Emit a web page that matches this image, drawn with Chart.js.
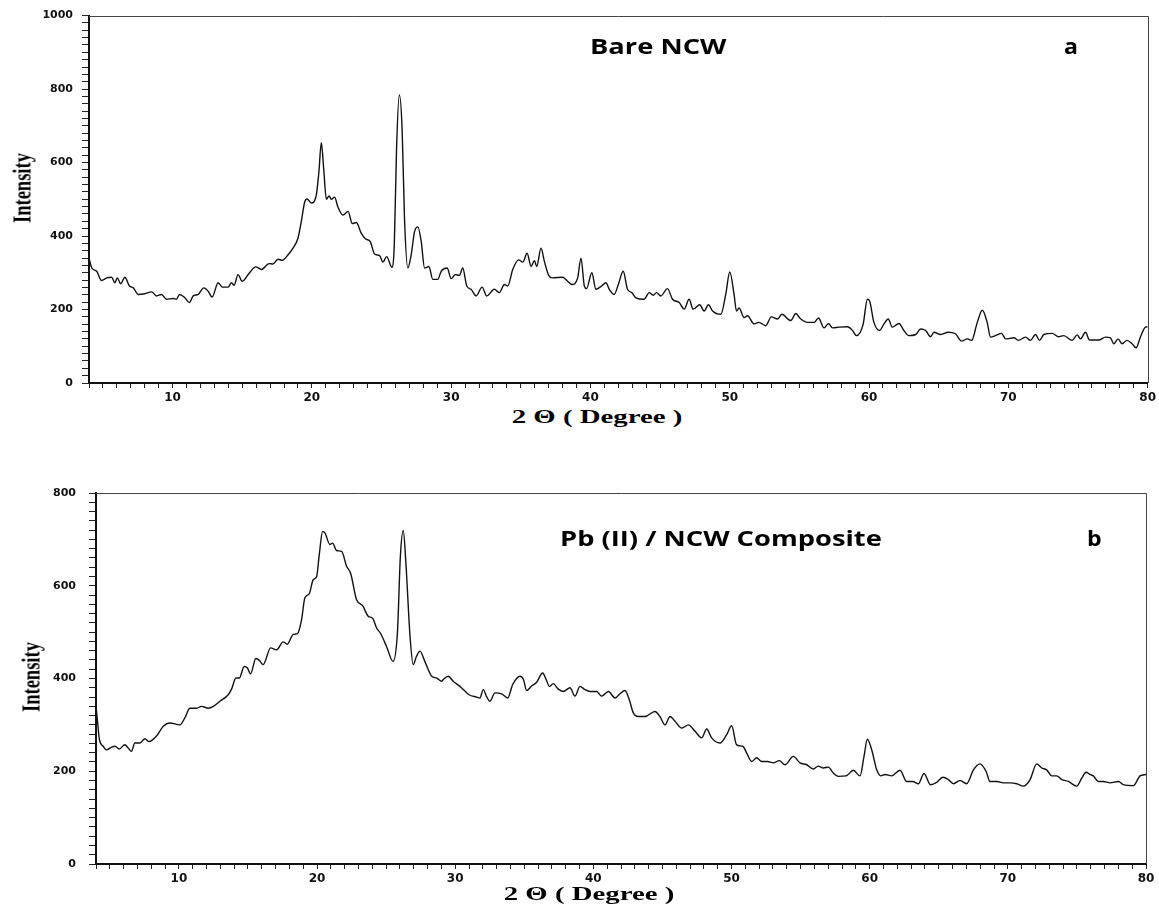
<!DOCTYPE html>
<html>
<head>
<meta charset="utf-8">
<title>XRD - Bare NCW / Pb (II) NCW Composite</title>
<script src="https://cdn.jsdelivr.net/npm/chart.js@4.4.1/dist/chart.umd.min.js"></script>
<style>
  body { margin: 0; background: #fff; }
  #wrap { position: relative; width: 1159px; height: 911px; overflow: hidden; }
  canvas { position: absolute; left: 0; }
  .lbl { position: absolute; white-space: nowrap; line-height: 1; color: #000; }
  .panel { font-family: 'Open Sans', sans-serif; font-weight: bold; font-size: 21px; transform: scaleX(1.3); transform-origin: 0 0; }
  .letter { font-family: 'Open Sans', sans-serif; font-weight: bold; font-size: 21px; transform: scaleX(1.1); transform-origin: 0 0; }
  .xt { font-family: 'Liberation Serif', serif; font-weight: bold; font-size: 18px; transform: translate(-50%, -50%) scaleX(1.6); }
  .yt { font-family: 'Liberation Serif', serif; font-weight: bold; font-size: 25px; transform: translate(-50%, -50%) rotate(-90deg) scaleX(0.74); }
</style>
</head>
<body>
<div id="wrap">
  <canvas id="xrdA" width="1159" height="405" style="top:0"></canvas>
  <canvas id="xrdB" width="1159" height="420" style="top:470px"></canvas>

  <div class="lbl panel" style="left:590px; top:36px">Bare NCW</div>
  <div class="lbl letter" style="left:1064px; top:36px">a</div>
  <div class="lbl panel" style="left:560px; top:528px">Pb (II) / NCW Composite</div>
  <div class="lbl letter" style="left:1087px; top:528px">b</div>

  <div class="lbl xt" style="left:597px; top:417px">2 &Theta; ( Degree )</div>
  <div class="lbl xt" style="left:589px; top:894px">2 &Theta; ( Degree )</div>
  <div class="lbl yt" style="left:22px; top:188px">Intensity</div>
  <div class="lbl yt" style="left:31px; top:677px">Intensity</div>
</div>
<script>
const xTickLabels = [10, 20, 30, 40, 50, 60, 70, 80];
const yTickLabelsA = [0, 200, 400, 600, 800, 1000];
const yTickLabelsB = [0, 200, 400, 600, 800];

// a: Bare NCW
const twoThetaA = [4.0, 4.2, 4.55, 4.9, 5.27, 5.62, 5.86, 6.03, 6.27, 6.58, 6.9, 7.18, 7.54, 8.0, 8.5, 8.85, 9.2, 9.57,
  10.05, 10.28, 10.5, 10.88, 11.2, 11.48, 11.84, 12.24, 12.55, 12.84, 13.27, 13.58, 13.99, 14.23, 14.42, 14.7, 15.0,
  15.5, 15.97, 16.38, 16.93, 17.2, 17.57, 17.88, 18.29, 18.65, 19.0, 19.24, 19.48, 19.65, 19.96, 20.32, 20.5, 20.68,
  20.85, 21.04, 21.23, 21.4, 21.63, 21.87, 22.23, 22.6, 22.9, 23.19, 23.55, 23.86, 24.19, 24.5, 24.86, 25.1, 25.37,
  25.75, 25.92, 26.08, 26.28, 26.48, 26.65, 26.89, 27.13, 27.37, 27.61, 27.85, 28.09, 28.4, 28.68, 29.04, 29.28,
  29.71, 30.0, 30.3, 30.59, 30.83, 31.12, 31.43, 31.79, 32.22, 32.55, 33.1, 33.46, 33.82, 34.06, 34.42, 34.85,
  35.14, 35.45, 35.74, 35.98, 36.14, 36.45, 36.69, 37.0, 37.28, 38.0, 38.36, 38.67, 39.08, 39.32, 39.56, 39.72,
  40.1, 40.39, 40.8, 41.11, 41.35, 41.7, 42.0, 42.35, 42.66, 42.97, 43.26, 43.85, 44.22, 44.5, 44.74, 45.05, 45.53,
  45.89, 46.37, 46.73, 47.08, 47.37, 47.85, 48.16, 48.47, 48.76, 49.36, 49.71, 50.0, 50.31, 50.48, 50.67, 51.03,
  51.27, 51.75, 52.1, 52.58, 52.98, 53.43, 53.74, 54.38, 54.74, 55.1, 55.58, 56.06, 56.37, 56.77, 57.09, 57.37,
  57.85, 58.45, 58.81, 59.09, 59.57, 59.88, 60.04, 60.35, 60.76, 61.07, 61.38, 61.67, 62.15, 62.5, 62.86, 63.35,
  63.7, 64.06, 64.41, 64.66, 65.14, 65.68, 66.2, 66.64, 67.05, 67.36, 67.77, 68.13, 68.48, 68.72, 69.08, 69.51,
  69.8, 70.4, 70.71, 71.23, 71.59, 71.95, 72.24, 72.55, 73.15, 73.58, 73.98, 74.58, 74.94, 75.18, 75.54, 75.83,
  76.5, 76.97, 77.33, 77.57, 77.88, 78.16, 78.52, 78.88, 79.17, 79.48, 79.84, 80.0];
const intensityA = [340, 313, 304, 279, 286, 288, 273, 286, 270, 288, 264, 259, 241, 243, 248, 237, 241, 228,
  230, 228, 241, 232, 219, 237, 241, 259, 250, 234, 273, 261, 261, 273, 266, 295, 277,
  299, 316, 309, 325, 324, 337, 334, 349, 367, 394, 439, 492, 501, 490, 512, 573, 654,
  582, 500, 509, 500, 506, 479, 457, 467, 434, 437, 407, 392, 385, 351, 347, 329, 344,
  315, 380, 640, 784, 690, 447, 313, 349, 412, 425, 385, 313, 317, 282, 282, 304,
  313, 284, 295, 293, 313, 264, 255, 237, 261, 237, 255, 246, 268, 264, 309, 335,
  329, 353, 317, 333, 317, 367, 331, 293, 286, 288, 277, 268, 286, 340, 264, 257,
  300, 255, 264, 273, 255, 241, 268, 304, 255, 246, 232, 228, 246, 239, 246, 237, 257,
  228, 219, 201, 228, 201, 213, 196, 213, 196, 187, 241, 302, 241, 196, 204, 178,
  183, 161, 165, 156, 180, 174, 187, 170, 189, 174, 165, 165, 177, 150, 162, 150,
  152, 153, 143, 129, 159, 228, 223, 165, 143, 161, 174, 152, 162, 143, 129, 132,
  147, 143, 126, 138, 132, 138, 134, 114, 120, 116, 165, 198, 165, 125, 129, 135,
  120, 123, 116, 125, 116, 132, 116, 132, 135, 126, 129, 116, 131, 120, 138, 117,
  117, 125, 123, 107, 120, 107, 116, 107, 96, 125, 152, 153];

// b: Pb (II) / NCW Composite
const twoThetaB = [4.0, 4.1, 4.25, 4.52, 4.76, 5.13, 5.37, 5.68, 6.09, 6.33, 6.57, 6.81, 7.18, 7.54, 7.85, 8.38, 8.87,
  9.35, 10.07, 10.43, 10.8, 11.28, 11.64, 12.12, 12.49, 12.97, 13.57, 13.81, 14.13, 14.37, 14.73, 14.95, 15.19,
  15.57, 15.82, 16.1, 16.64, 17.07, 17.55, 17.84, 18.28, 18.59, 18.88, 19.12, 19.44, 19.72, 19.97, 20.16, 20.4,
  20.57, 20.93, 21.12, 21.41, 21.78, 22.14, 22.43, 22.86, 23.3, 23.71, 24.02, 24.31, 24.6, 25.03, 25.5, 25.82,
  26.03, 26.24, 26.43, 26.73, 26.96, 27.2, 27.45, 27.8, 28.3, 28.66, 29.01, 29.14, 29.5, 29.85, 30.34, 30.7, 31.0,
  31.55, 31.79, 32.03, 32.27, 32.51, 32.88, 33.36, 33.8, 34.16, 34.69, 34.94, 35.17, 35.53, 35.9, 36.33, 36.58,
  36.82, 37.1, 37.46, 37.82, 38.31, 38.67, 39.03, 39.39, 39.76, 40.24, 40.6, 41.09, 41.57, 41.92, 42.29, 42.6,
  42.89, 43.25, 43.73, 44.46, 44.82, 45.18, 45.55, 45.91, 46.4, 46.88, 47.36, 47.84, 48.2, 48.56, 49.17, 49.65,
  50.01, 50.37, 50.81, 51.1, 51.46, 51.82, 52.19, 52.6, 53.02, 53.46, 53.87, 54.47, 54.96, 55.44, 55.92, 56.28,
  56.65, 57.01, 57.37, 57.73, 58.29, 58.82, 59.3, 59.59, 59.83, 60.15, 60.51, 60.8, 61.11, 61.59, 62.2, 62.68,
  63.11, 63.52, 63.93, 64.41, 64.85, 65.29, 65.7, 66.06, 66.54, 67.02, 67.51, 67.99, 68.42, 68.71, 69.2, 69.68,
  70.16, 70.64, 71.13, 71.61, 72.09, 72.45, 72.81, 73.18, 73.54, 73.9, 74.38, 74.99, 75.35, 75.66, 75.95, 76.19,
  76.55, 76.91, 77.4, 78.0, 78.36, 79.09, 79.57, 80.0];
const intensityB = [340, 311, 268, 254, 246, 252, 254, 248, 257, 250, 243, 261, 261, 270, 264, 276, 297,
  304, 300, 315, 336, 336, 340, 336, 340, 351, 365, 377, 401, 401, 426, 423, 410,
  443, 439, 430, 466, 462, 479, 474, 495, 497, 527, 574, 583, 613, 620, 667, 717,
  714, 689, 692, 676, 674, 642, 627, 570, 557, 534, 530, 509, 497, 469, 437, 500,
  663, 719, 649, 491, 430, 448, 459, 437, 405, 401, 394, 398, 405, 394, 383, 373, 365,
  360, 358, 376, 361, 351, 369, 367, 358, 387, 405, 398, 374, 384, 392, 412, 398,
  383, 389, 377, 372, 380, 362, 383, 376, 372, 372, 362, 372, 358, 367, 374, 354,
  326, 318, 318, 329, 318, 300, 318, 308, 293, 300, 286, 272, 291, 272, 261, 279,
  298, 257, 254, 239, 221, 229, 221, 221, 218, 223, 214, 232, 218, 214, 205, 211,
  207, 209, 196, 189, 190, 202, 190, 232, 269, 246, 203, 190, 193, 190, 202, 178,
  178, 173, 195, 171, 176, 187, 182, 173, 180, 173, 203, 216, 200, 178, 178, 175,
  175, 173, 168, 182, 216, 207, 203, 190, 190, 182, 178, 168, 185, 198, 193, 190,
  178, 178, 175, 178, 171, 169, 190, 193];

// top and right lines of the plot box
const frame = {
  id: 'frame',
  afterDatasetsDraw(chart) {
    const a = chart.chartArea, c = chart.ctx;
    c.save();
    c.strokeStyle = '#444';
    c.lineWidth = 1;
    c.beginPath();
    c.moveTo(a.left, Math.round(a.top) + 0.5);
    c.lineTo(Math.round(a.right) + 0.5, Math.round(a.top) + 0.5);
    c.lineTo(Math.round(a.right) + 0.5, a.bottom);
    c.stroke();
    c.restore();
  }
};

function xrdChart(id, theta, counts, yMax, yLabels, box) {
  return new Chart(document.getElementById(id), {
    type: 'line',
    data: {
      datasets: [{
        data: theta.map((t, i) => ({ x: t, y: counts[i] })),
        borderColor: '#111',
        borderWidth: 1.4,
        pointRadius: 0,
        cubicInterpolationMode: 'monotone',
        fill: false
      }]
    },
    options: {
      responsive: false,
      animation: false,
      devicePixelRatio: 1,
      layout: { padding: { left: 0, right: box.right, top: box.top, bottom: 0 } },
      plugins: { legend: { display: false }, tooltip: { enabled: false } },
      scales: {
        x: {
          type: 'linear', min: 4, max: 80,
          afterFit: s => { s.height = box.xh; },
          grid: { drawOnChartArea: false, tickLength: 5, color: '#222' },
          border: { color: '#111', width: 2 },
          ticks: {
            stepSize: 1, autoSkip: false, maxRotation: 0, padding: 3, color: '#111',
            font: { family: 'DejaVu Sans', weight: 'bold', size: 12 },
            callback: v => xTickLabels.includes(v) ? v : ''
          }
        },
        y: {
          min: 0, max: yMax,
          afterFit: s => { s.width = box.yw; },
          grid: { drawOnChartArea: false, tickLength: 7, color: '#222' },
          border: { color: '#111', width: 2 },
          ticks: {
            stepSize: 20, autoSkip: false, padding: box.ypad, color: '#111',
            font: { family: 'DejaVu Sans', weight: 'bold', size: 11 },
            callback: v => yLabels.includes(v) ? v : ''
          }
        }
      }
    },
    plugins: [frame]
  });
}

xrdChart('xrdA', twoThetaA, intensityA, 1000, yTickLabelsA, { right: 10, top: 11, xh: 22, yw: 89, ypad: 9 });
xrdChart('xrdB', twoThetaB, intensityB, 800, yTickLabelsB, { right: 13, top: 23, xh: 26, yw: 96, ypad: 13 });
</script>
</body>
</html>
